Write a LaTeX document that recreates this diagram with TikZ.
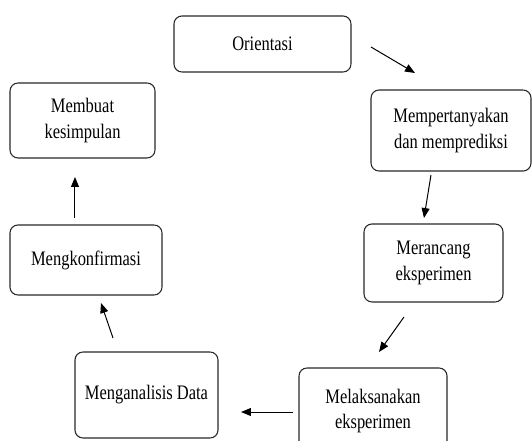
\documentclass[tikz,border=0pt]{standalone}
\usepackage{fontspec}
\setmainfont{Liberation Serif}[FakeStretch=0.8]
\usepackage{tikz}
\usetikzlibrary{arrows.meta,positioning}
\definecolor{bline}{RGB}{40,40,40}
\tikzset{
  box/.style={draw=bline, line width=0.8pt, rounded corners=6pt, align=center,
      inner sep=0pt, font=\fontsize{15.5}{19}\selectfont},
  arr/.style={-{Triangle[length=7.5pt, width=6pt]}, line width=0.75pt, black},
}

\begin{document}
\begin{tikzpicture}
  \useasboundingbox (0,0) rectangle (14.076,11.668);
  \clip (0,0) rectangle (14.076,11.668);
  \node[box, minimum width=4.683cm, minimum height=1.482cm] (ori) at (6.945,10.504) {Orientasi};
  \node[box, minimum width=4.233cm, minimum height=2.143cm] (tanya) at (11.933,8.215) {Mempertanyakan\\dan memprediksi};
  \node[box, minimum width=3.678cm, minimum height=2.064cm] (rancang) at (11.470,4.710) {Merancang\\eksperimen};
  \node[box, minimum width=3.916cm, minimum height=2.275cm] (laksana) at (9.869,0.794) {Melaksanakan\\eksperimen};
  \node[box, minimum width=3.784cm, minimum height=2.275cm] (analisis) at (3.876,1.217) {Menganalisis Data};
  \node[box, minimum width=4.022cm, minimum height=1.852cm] (konfirm) at (2.275,4.789) {Mengkonfirmasi};
  \node[box, minimum width=3.836cm, minimum height=1.984cm] (simpul) at (2.183,8.480) {Membuat\\kesimpulan};
  \coordinate (a1s) at (9.816,10.425); \coordinate (a1e) at (10.980,9.737);
  \coordinate (a2s) at (11.403,7.038); \coordinate (a2e) at (11.218,5.900);
  \coordinate (a3s) at (10.689,3.281); \coordinate (a3e) at (10.028,2.355);
  \coordinate (a4s) at (7.752,0.767);  \coordinate (a4e) at (6.376,0.767);
  \coordinate (a5s) at (2.990,2.725);  \coordinate (a5e) at (2.672,3.651);
  \coordinate (a6s) at (1.984,5.900);  \coordinate (a6e) at (1.984,6.985);
  \foreach \s/\e in {a1s/a1e, a2s/a2e, a3s/a3e, a4s/a4e, a5s/a5e, a6s/a6e}
    \draw[arr] (\s) -- (\e);
\end{tikzpicture}
\end{document}
